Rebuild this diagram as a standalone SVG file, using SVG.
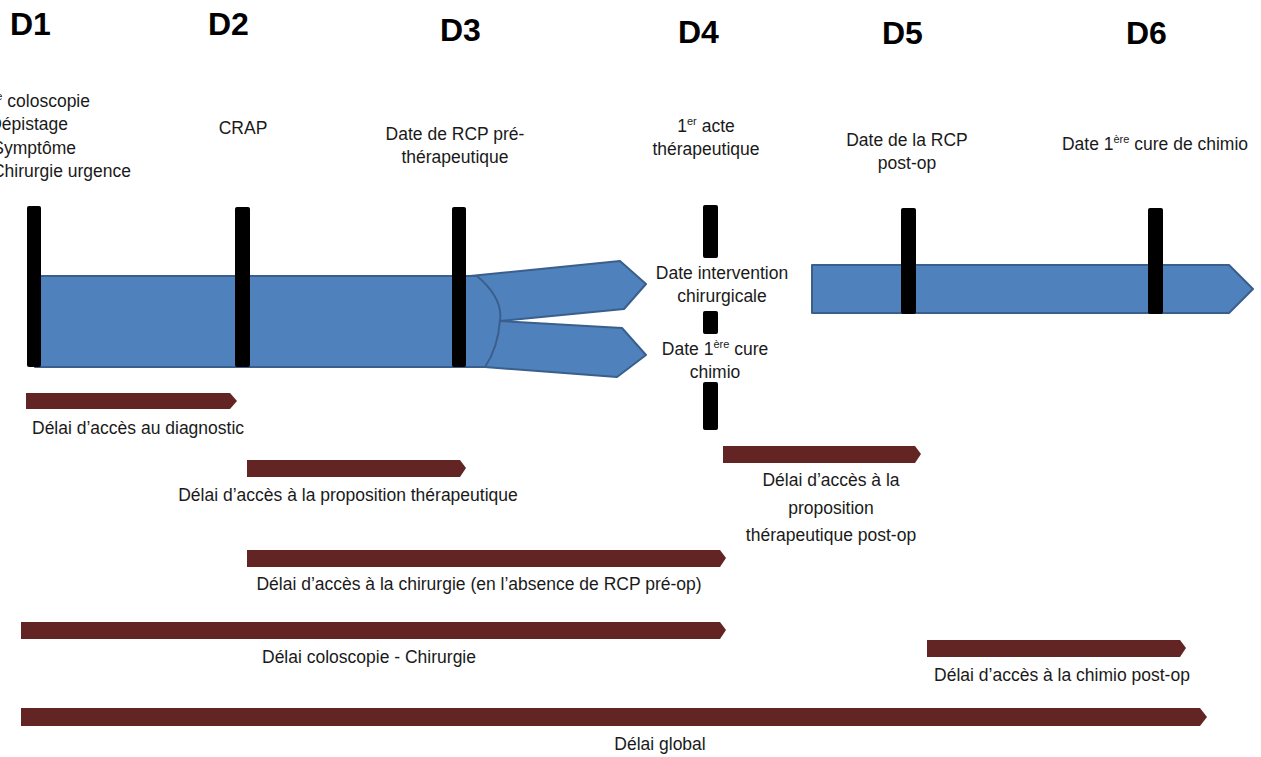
<svg xmlns="http://www.w3.org/2000/svg" width="1261" height="757" viewBox="0 0 1261 757">
<style>
text{font-family:"Liberation Sans",Arial,sans-serif;font-size:17.5px;fill:#1a1a1a}
.h{font-weight:bold;font-size:32px;fill:#000}
.c{text-anchor:middle}
.e{text-anchor:end}
.blue{fill:#4F81BD;stroke:#3A5F8C;stroke-width:2;stroke-linejoin:round}
.tick{fill:#000}
.bar{fill:#632523}
.sup{font-size:11px}
</style>
<rect width="1261" height="757" fill="#fff"/>
<g id="headers">
<text class="h" x="10" y="35">D1</text>
<text class="h" x="208" y="35">D2</text>
<text class="h" x="440" y="41">D3</text>
<text class="h" x="678" y="43">D4</text>
<text class="h" x="882" y="44">D5</text>
<text class="h" x="1126" y="44">D6</text>
</g>
<g id="labels-top">
<text class="e" x="90" y="107">1<tspan class="sup" dy="-7">ère</tspan><tspan dy="7"> coloscopie</tspan></text>
<text class="e" x="68" y="130">Dépistage</text>
<text class="e" x="76" y="154">Symptôme</text>
<text class="e" x="131" y="177">Chirurgie urgence</text>
<text class="c" x="243" y="134">CRAP</text>
<text class="c" x="455" y="140">Date de RCP pré-</text>
<text class="c" x="455" y="163">thérapeutique</text>
<text class="c" x="706" y="132">1<tspan class="sup" dy="-7">er</tspan><tspan dy="7"> acte</tspan></text>
<text class="c" x="706" y="155">thérapeutique</text>
<text class="c" x="907" y="146">Date de la RCP</text>
<text class="c" x="907" y="169">post-op</text>
<text class="c" x="1155" y="150">Date 1<tspan class="sup" dy="-7">ère</tspan><tspan dy="7"> cure de chimio</tspan></text>
</g>
<g id="timeline-main">
<path class="blue" d="M470,276 L620,261 L646,284 L624,309 L500,321 L470,321 Z"/>
<path class="blue" d="M470,320 L500,321 L622,328 L646,355 L617,377 L485,367 L470,367 Z"/>
<path class="blue" d="M35,276 L477,276 Q503,298 500,320 Q498,348 485,367 L35,367 Z"/>
</g>
<g id="timeline-post">
<path class="blue" d="M812,265 L1229,265 L1253,289 L1229,313 L812,313 Z"/>
</g>
<g id="ticks">
<rect class="tick" x="27" y="206" width="14" height="161" rx="2"/>
<rect class="tick" x="235" y="207" width="15" height="160" rx="2"/>
<rect class="tick" x="452" y="207" width="14" height="160" rx="2"/>
<rect class="tick" x="703" y="205" width="15" height="53" rx="2"/>
<rect class="tick" x="703" y="311" width="15" height="23" rx="2"/>
<rect class="tick" x="703" y="382" width="15" height="48" rx="2"/>
<rect class="tick" x="901" y="208" width="15" height="106" rx="2"/>
<rect class="tick" x="1148" y="208" width="15" height="106" rx="2"/>
</g>
<g id="labels-d4">
<text class="c" x="722" y="279">Date intervention</text>
<text class="c" x="722" y="302">chirurgicale</text>
<text class="c" x="715" y="355">Date 1<tspan class="sup" dy="-7">ère</tspan><tspan dy="7"> cure</tspan></text>
<text class="c" x="715" y="378">chimio</text>
</g>
<g id="connectors">
<path class="bar" d="M26,393 L230,393 L237,401 L230,409 L26,409 Z"/>
<path class="bar" d="M247,460 L460,460 L466,468 L460,477 L247,477 Z"/>
<path class="bar" d="M723,446 L915,446 L921,454 L915,463 L723,463 Z"/>
<path class="bar" d="M247,550 L720,550 L726,558 L720,567 L247,567 Z"/>
<path class="bar" d="M21,622 L720,622 L726,630 L720,639 L21,639 Z"/>
<path class="bar" d="M927,640 L1180,640 L1186,648 L1180,657 L927,657 Z"/>
<path class="bar" d="M21,708 L1200,708 L1207,717 L1200,726 L21,726 Z"/>
</g>
<g id="labels-delays">
<text x="32" y="434">Délai d’accès au diagnostic</text>
<text class="c" x="348" y="501">Délai d’accès à la proposition thérapeutique</text>
<text class="c" x="831" y="486">Délai d’accès à la</text>
<text class="c" x="831" y="514">proposition</text>
<text class="c" x="831" y="541">thérapeutique  post-op</text>
<text class="c" x="479" y="590">Délai d’accès à la chirurgie (en l’absence de RCP pré-op)</text>
<text class="c" x="369" y="663">Délai coloscopie  - Chirurgie</text>
<text class="c" x="1062" y="681">Délai d’accès à la chimio post-op</text>
<text class="c" x="660" y="750">Délai global</text>
</g>
</svg>
